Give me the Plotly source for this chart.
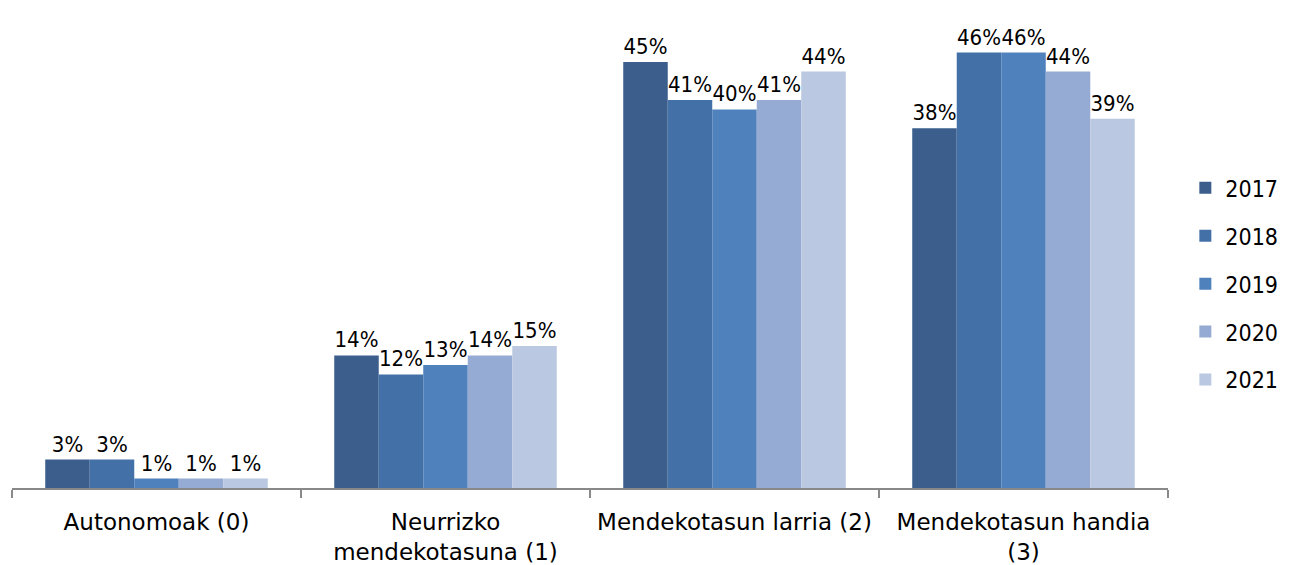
import plotly.graph_objects as go

categories = ["Autonomoak (0)", "Neurrizko<br>mendekotasuna (1)", "Mendekotasun larria (2)", "Mendekotasun handia<br>(3)"]
years = ["2017", "2018", "2019", "2020", "2021"]
values = {
    "2017": [3, 14, 45, 38],
    "2018": [3, 12, 41, 46],
    "2019": [1, 13, 40, 46],
    "2020": [1, 14, 41, 44],
    "2021": [1, 15, 44, 39],
}
colors = ["#3b5e8c", "#4371a7", "#4f81bd", "#95abd3", "#bac8e2"]

FONT_C = "DejaVu Sans Condensed, DejaVu Sans"
FONT_R = "DejaVu Sans"

fig = go.Figure()
for y, c in zip(years, colors):
    fig.add_trace(go.Bar(
        x=categories, y=values[y], name=y, marker_color=c,
        marker_line_width=0,
        text=[f"{v}%" for v in values[y]], textposition="outside",
        constraintext="none",
        textfont=dict(family=FONT_C, size=22, color="black"),
        cliponaxis=False, legendgroup=y,
    ))

fig.update_layout(
    width=1277, height=557,
    barmode="group", bargap=0.23, bargroupgap=0,
    plot_bgcolor="white", paper_bgcolor="white",
    margin=dict(l=4, r=117, t=2, b=77, autoexpand=False),
    font=dict(family=FONT_C, size=21, color="black"),
    legend=dict(x=1.015, y=0.427, xanchor="left", yanchor="middle",
                font=dict(family=FONT_C, size=23, color="black"),
                tracegroupgap=15, bgcolor="rgba(0,0,0,0)"),
    showlegend=True,
)
fig.update_xaxes(showline=True, linecolor="#898989", linewidth=1.5,
                 ticks="outside", tickson="boundaries", ticklen=8, tickcolor="#898989",
                 tickwidth=1.5, ticklabelstandoff=13,
                 tickfont=dict(family=FONT_R, size=23, color="black"))
fig.update_yaxes(visible=False, range=[0, 50.5], showgrid=False)

fig.write_html("out.html")
